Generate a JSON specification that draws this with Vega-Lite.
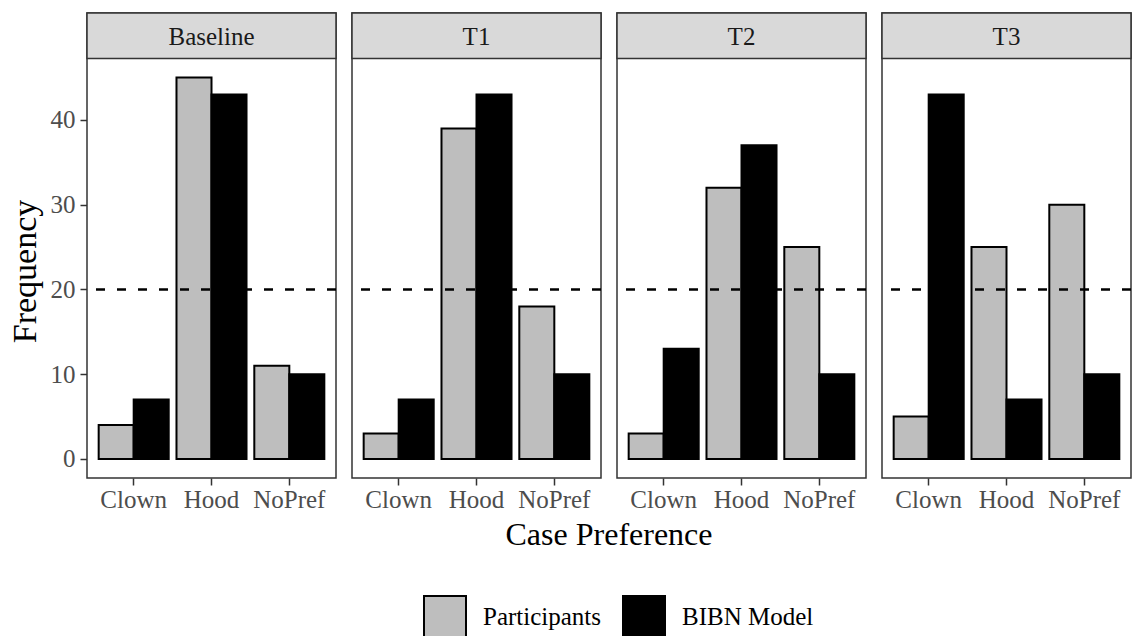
{
  "$schema": "https://vega.github.io/schema/vega-lite/v6.json",
  "padding": {"left": 8, "top": 11, "right": 2, "bottom": 0},
  "background": "white",
  "config": {
    "font": "Liberation Serif",
    "axis": {"grid": false, "domain": false, "labelFont": "Liberation Serif", "titleFont": "Liberation Serif"},
    "text": {"font": "Liberation Serif"},
    "legend": {"labelFont": "Liberation Serif"}
  },
  "data": {
    "values": [
      {"panel": "Baseline", "pref": "Clown", "group": "Participants", "value": 4},
      {"panel": "Baseline", "pref": "Clown", "group": "BIBN Model", "value": 7},
      {"panel": "Baseline", "pref": "Hood", "group": "Participants", "value": 45},
      {"panel": "Baseline", "pref": "Hood", "group": "BIBN Model", "value": 43},
      {"panel": "Baseline", "pref": "NoPref", "group": "Participants", "value": 11},
      {"panel": "Baseline", "pref": "NoPref", "group": "BIBN Model", "value": 10},
      {"panel": "T1", "pref": "Clown", "group": "Participants", "value": 3},
      {"panel": "T1", "pref": "Clown", "group": "BIBN Model", "value": 7},
      {"panel": "T1", "pref": "Hood", "group": "Participants", "value": 39},
      {"panel": "T1", "pref": "Hood", "group": "BIBN Model", "value": 43},
      {"panel": "T1", "pref": "NoPref", "group": "Participants", "value": 18},
      {"panel": "T1", "pref": "NoPref", "group": "BIBN Model", "value": 10},
      {"panel": "T2", "pref": "Clown", "group": "Participants", "value": 3},
      {"panel": "T2", "pref": "Clown", "group": "BIBN Model", "value": 13},
      {"panel": "T2", "pref": "Hood", "group": "Participants", "value": 32},
      {"panel": "T2", "pref": "Hood", "group": "BIBN Model", "value": 37},
      {"panel": "T2", "pref": "NoPref", "group": "Participants", "value": 25},
      {"panel": "T2", "pref": "NoPref", "group": "BIBN Model", "value": 10},
      {"panel": "T3", "pref": "Clown", "group": "Participants", "value": 5},
      {"panel": "T3", "pref": "Clown", "group": "BIBN Model", "value": 43},
      {"panel": "T3", "pref": "Hood", "group": "Participants", "value": 25},
      {"panel": "T3", "pref": "Hood", "group": "BIBN Model", "value": 7},
      {"panel": "T3", "pref": "NoPref", "group": "Participants", "value": 30},
      {"panel": "T3", "pref": "NoPref", "group": "BIBN Model", "value": 10}
    ]
  },
  "facet": {
    "column": {
      "field": "panel", "type": "nominal",
      "sort": ["Baseline", "T1", "T2", "T3"],
      "header": {
        "labels": false,
        "title": "Case Preference",
        "titleOrient": "bottom",
        "titleFontSize": 32,
        "titleFontWeight": "normal",
        "titleColor": "black",
        "titleFont": "Liberation Serif",
        "titlePadding": -2
      }
    }
  },
  "spacing": {"column": 16},
  "bounds": "flush",
  "spec": {
    "width": 249,
    "height": 465,
    "view": {"fill": "white", "stroke": "#333333", "strokeWidth": 1.5},
    "layer": [
      {
        "mark": {"type": "bar", "stroke": "black", "strokeWidth": 2},
        "encoding": {
          "x": {
            "field": "pref", "type": "nominal",
            "sort": ["Clown", "Hood", "NoPref"],
            "scale": {"paddingInner": 0.1, "paddingOuter": 0.15},
            "axis": {
              "title": null, "labelAngle": 0, "labelFontSize": 25,
              "labelFont": "Liberation Serif",
              "labelColor": "#4d4d4d", "tickColor": "#333333",
              "tickSize": 7, "tickWidth": 1.5, "labelPadding": 2
            }
          },
          "xOffset": {
            "field": "group", "type": "nominal",
            "sort": ["Participants", "BIBN Model"],
            "scale": {"paddingInner": 0, "paddingOuter": 0}
          },
          "y": {
            "field": "value", "type": "quantitative",
            "scale": {"domain": [-2.25, 52.62], "nice": false, "zero": false},
            "axis": {
              "title": "Frequency", "values": [0, 10, 20, 30, 40],
              "titleY": 258,
              "labelFont": "Liberation Serif", "titleFont": "Liberation Serif",
              "labelFontSize": 25, "labelColor": "#4d4d4d",
              "tickColor": "#333333", "tickSize": 7, "tickWidth": 1.5,
              "labelPadding": 5, "titleFontSize": 34,
              "titleFontWeight": "normal", "titleColor": "black",
              "titlePadding": 8
            }
          },
          "fill": {
            "field": "group", "type": "nominal",
            "sort": ["Participants", "BIBN Model"],
            "scale": {"domain": ["Participants", "BIBN Model"], "range": ["#bebebe", "#000000"]},
            "legend": {
              "title": null, "orient": "none", "direction": "horizontal",
              "legendX": 336, "legendY": 582,
              "symbolType": "square", "symbolSize": 1764,
              "symbolStrokeColor": "black", "symbolStrokeWidth": 2,
              "symbolOpacity": 1,
              "labelFont": "Liberation Serif",
              "labelFontSize": 25, "labelColor": "black",
              "labelOffset": 16, "columnPadding": 17
            }
          }
        }
      },
      {
        "transform": [{"aggregate": [{"op": "count", "as": "n"}], "groupby": ["panel"]}],
        "mark": {"type": "rule", "strokeDash": [9, 12], "strokeWidth": 2.5, "color": "black"},
        "encoding": {
          "y": {"datum": 20}
        }
      },
      {
        "transform": [{"aggregate": [{"op": "count", "as": "n"}], "groupby": ["panel"]}],
        "mark": {"type": "rect", "fill": "#d9d9d9", "stroke": "#333333", "strokeWidth": 1.5},
        "encoding": {
          "y": {"datum": 47.25},
          "y2": {"datum": 52.62}
        }
      },
      {
        "transform": [{"aggregate": [{"op": "count", "as": "n"}], "groupby": ["panel"]}],
        "mark": {"type": "text", "font": "Liberation Serif", "fontSize": 25, "color": "#1a1a1a", "baseline": "middle", "dy": 1},
        "encoding": {
          "y": {"datum": 49.94},
          "text": {"field": "panel", "type": "nominal"}
        }
      }
    ]
  }
}
